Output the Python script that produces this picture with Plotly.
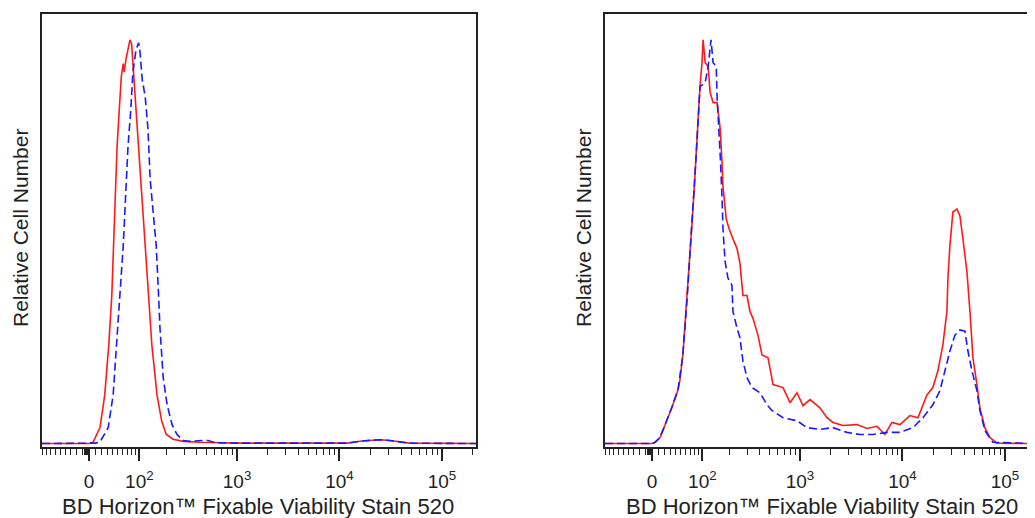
import numpy as np
import plotly.graph_objects as go

# ---------------- data (fluorescence intensity, relative count %) ----------------
left_red_x = [-91, 0, 6.5, 18, 26, 33, 38.5, 42, 44.5, 48.5, 52.5, 57, 61, 63, 67, 71, 76, 80, 83, 88,
              97, 107, 117, 127, 139, 158, 177, 198, 232, 294, 433, 1000, 5000, 12000, 16500, 21000,
              25000, 31000, 36000, 48000, 215000]
left_red_y = [0.2, 0.2, 0.5, 3.9, 11.5, 23.1, 34.6, 46.2, 57.7, 69.3, 77.1, 85.5, 88.5, 86.5, 89.5, 92.0,
              94.0, 93.0, 89.0, 80.8, 69.3, 57.7, 46.2, 34.6, 23.1, 11.5, 5.5, 2.3, 1.2, 0.7, 0.5, 0.3,
              0.3, 0.3, 0.8, 1.0, 1.1, 0.9, 0.7, 0.3, 0.2]

left_blue_x = [-91, 0, 10, 18, 32, 41, 48, 54, 61, 65, 71.5, 78, 83, 91, 98, 102, 108, 117, 126, 133,
               144, 155, 163, 170, 184, 202, 227, 255, 294, 344, 450, 520, 610, 1000, 5000, 12000,
               16500, 21000, 25000, 31000, 36000, 48000, 215000]
left_blue_y = [0.2, 0.2, 0.3, 0.6, 3.9, 11.5, 23.1, 34.6, 46.2, 56.4, 69.3, 77.8, 86.4, 91.7, 93.3, 91.0,
               84.8, 80.8, 73.2, 61.7, 54.0, 46.2, 36.3, 27.0, 15.5, 9.2, 4.6, 2.3, 0.9, 0.7, 0.9, 0.9,
               0.4, 0.3, 0.3, 0.3, 0.8, 1.0, 1.1, 0.9, 0.7, 0.3, 0.2]

right_red_x = [-91, 0, 4.9, 13, 21, 33, 44.5, 48, 54, 58, 63, 69, 74, 79, 83, 86, 88.5, 93.5, 99, 102,
               108, 117, 123, 133, 147, 159, 166, 170, 184, 197, 216, 238, 255, 273, 300, 321, 344,
               386, 423, 485, 544, 682, 798, 934, 1069, 1251, 1566, 1833, 2099, 2628, 3600, 4508,
               5640, 6750, 7900, 9460, 11840, 14170, 17340, 19820, 22190, 24800, 27160, 27800, 29060,
               31080, 34000, 36400, 38900, 42570, 45560, 48750, 53330, 57000, 63800, 71400, 83500,
               196600]
right_red_y = [0.2, 0.2, 0.5, 1.6, 4.4, 8.5, 12.7, 14.8, 20.8, 27.0, 34.6, 42.5, 51.7, 59.4, 67.0, 71.6,
               76.2, 83.1, 88.7, 94.0, 88.7, 87.8, 81.8, 79.4, 79.4, 73.2, 65.6, 60.0, 52.4, 50.1,
               47.8, 45.5, 42.0, 34.6, 34.6, 30.9, 29.3, 25.4, 20.8, 20.1, 13.9, 13.2, 9.7, 12.0, 9.0,
               10.4, 8.5, 6.2, 5.1, 4.4, 4.6, 3.7, 4.2, 2.3, 5.1, 4.6, 6.7, 6.2, 11.5, 13.2, 17.1,
               23.1, 30.9, 38.6, 46.2, 54.0, 54.7, 53.1, 47.8, 40.2, 30.9, 20.1, 13.9, 8.5, 3.9, 1.6,
               0.3, 0.2]

right_blue_x = [-91, 0, 4.9, 13, 21, 33, 44.5, 54, 63, 74, 83, 93.5, 108, 117, 126, 133, 144, 147, 150,
                159, 166, 170, 179, 192, 211, 216, 238, 255, 273, 300, 336, 404, 474, 530, 682, 934,
                1170, 1566, 2099, 2876, 3850, 5155, 7060, 9460, 12670, 15860, 19820, 23220, 25980,
                29060, 32540, 36400, 40720, 43560, 47660, 53330, 57000, 63800, 76300, 196600]
right_blue_y = [0.2, 0.2, 0.5, 1.6, 4.4, 8.5, 12.7, 20.8, 34.0, 51.0, 66.0, 83.1, 84.1, 87.8, 94.0, 88.7,
                87.8, 80.8, 76.2, 67.0, 57.7, 50.1, 42.5, 38.6, 37.0, 30.9, 27.0, 24.7, 19.4, 15.5,
                13.2, 12.0, 9.2, 7.9, 6.2, 5.5, 3.9, 3.5, 3.9, 2.8, 2.3, 2.3, 2.8, 2.8, 3.9, 6.2, 9.2,
                12.5, 17.1, 21.7, 25.4, 26.6, 26.3, 21.7, 17.1, 12.5, 7.9, 3.2, 0.5, 0.2]

major_vals = [0, 1e2, 1e3, 1e4, 1e5]
major_text = ["0", "10<sup>2</sup>", "10<sup>3</sup>", "10<sup>4</sup>", "10<sup>5</sup>"]
minor_vals = ([-v for v in range(10, 100, 10)] + [-8, -6, -4, -2] + list(range(10, 100, 10))
              + [m * 10 ** e for e in (2, 3, 4) for m in range(2, 10)] + [2e5])

x_title = "BD Horizon™ Fixable Viability Stain 520"
y_title = "Relative Cell Number"

# ---------------- biexponential-like display transform ----------------
C = 72.0


def T(v):
    return np.arcsinh(np.asarray(v, dtype=float) / C) / np.log(10)


# page body has an 8px margin: the figure is drawn from (8, 8) of the window
OFF = 8
W, H = 1035 - OFF, 518 - OFF


def px(v):
    return (v - OFF) / W


def py(v):
    return (H - (v - OFF)) / H


RED = "#ff1a1a"
BLUE = "#1a1aff"
FONT = "Liberation Sans, Arial, sans-serif"

fig = go.Figure()
panels = [
    ("x", "y", left_red_x, left_red_y, left_blue_x, left_blue_y),
    ("x2", "y2", right_red_x, right_red_y, right_blue_x, right_blue_y),
]
for xa, ya, rx, ry, bx, by in panels:
    fig.add_trace(go.Scatter(x=T(rx), y=ry, xaxis=xa, yaxis=ya, mode="lines",
                             line=dict(color=RED, width=1.6), showlegend=False))
    fig.add_trace(go.Scatter(x=T(bx), y=by, xaxis=xa, yaxis=ya, mode="lines",
                             line=dict(color=BLUE, width=1.6, dash="8px,4px"), showlegend=False))

ydom = [py(447), py(14)]
common_x = dict(
    showline=True, linecolor="#222", linewidth=2, mirror=True,
    showgrid=False, zeroline=False,
    tickmode="array", tickvals=T(major_vals).tolist(), ticktext=major_text,
    ticks="outside", ticklen=12, tickwidth=1.5, tickcolor="#222",
    ticklabelstandoff=4,
    tickfont=dict(family=FONT, size=19, color="#222"),
    minor=dict(tickmode="array", tickvals=T(minor_vals).tolist(), ticks="outside",
               ticklen=6, tickwidth=1.2, tickcolor="#222"),
)
common_y = dict(showline=True, linecolor="#222", linewidth=2, showgrid=False,
                zeroline=False, showticklabels=False, ticks="", range=[-0.6, 100])

fig.update_layout(
    width=W, height=H,
    margin=dict(l=0, r=0, t=0, b=0),
    paper_bgcolor="white", plot_bgcolor="white",
    xaxis=dict(domain=[px(42), px(476)], range=[float(T(-91)), float(T(215000))], anchor="y",
               **common_x),
    yaxis=dict(domain=ydom, anchor="x", mirror=True, **common_y),
    xaxis2=dict(domain=[px(605), 1.0], range=[float(T(-91)), float(T(196600))], anchor="y2",
                **common_x),
    yaxis2=dict(domain=ydom, anchor="x2", mirror=False, **common_y),
)

for cx, cy in [(257.5, 20), (822, 583)]:
    fig.add_annotation(text=x_title, xref="paper", yref="paper", x=px(cx), y=py(506),
                       xanchor="center", yanchor="middle", showarrow=False,
                       font=dict(family=FONT, size=22, color="#222"))
    fig.add_annotation(text=y_title, xref="paper", yref="paper", x=px(cy), y=py(228),
                       xanchor="center", yanchor="middle", textangle=-90, showarrow=False,
                       font=dict(family=FONT, size=21, color="#222"))

fig.write_html("out.html")
